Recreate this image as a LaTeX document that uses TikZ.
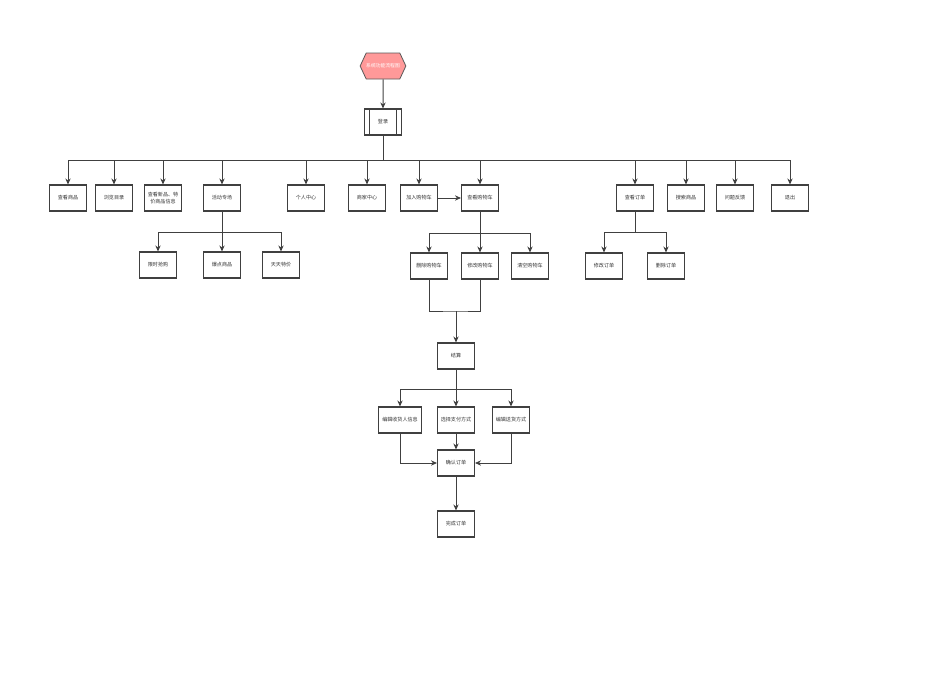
\documentclass[tikz,border=0pt]{standalone}
\usepackage{fontspec}
\setmainfont{Noto Sans CJK SC}
\usetikzlibrary{arrows.meta,shapes.symbols}

\tikzset{
  box/.style={draw=black!75, line width=0.8pt, fill=white, minimum width=27.75pt,
    minimum height=19.5pt, inner sep=1pt, align=center, text=black!80,
    font=\fontsize{3.8}{4.8}\selectfont},
  link/.style={draw=black!75, line width=0.75pt},
  >={Stealth[length=4.5pt,width=4pt]}
}

\begin{document}
\begin{tikzpicture}[x=0.75pt, y=-0.75pt]
  \useasboundingbox (0,0) rectangle (950,672);
  % start and login
  \node[signal, signal to=east and west, signal pointer angle=130, fill=red!40,
    draw=black!65, line width=0.6pt, minimum width=31.5pt, minimum height=19.5pt,
    inner sep=0pt, text=white, font=\fontsize{3.6}{4.5}\selectfont] (start) at (383,66) {系统功能流程图};
  \node[box] (login) at (383,122) {登录};
  \draw[link] ([xshift=4.5pt]login.north west) -- ([xshift=4.5pt]login.south west);
  \draw[link] ([xshift=-4.5pt]login.north east) -- ([xshift=-4.5pt]login.south east);
  \draw[link,->] (start) -- (login);

  % first level
  \foreach \nm/\x/\txt in {look/68/查看商品, browse/114/浏览目录, news/163/{查看新品、特\\价商品信息},
      act/222/活动专场, mine/306/个人中心, shop/367/商家中心, addcart/419/加入购物车,
      cart/480/查看购物车, order/635/查看订单, search/686/搜索商品, back/735/问题反馈, quit/790/退出}
    \node[box] (\nm) at (\x,198) {\txt};
  \coordinate (bus) at (383,160);
  \draw[link] (login) -- (bus);
  \draw[link] (bus -| look) -- (bus -| quit);
  \foreach \nm in {look,browse,news,act,mine,shop,addcart,cart,order,search,back,quit}
    \draw[link,->] (bus -| \nm) -- (\nm);
  \draw[link,->] (addcart) -- (cart);

  % activities
  \foreach \nm/\x/\txt in {flash/158/限时抢购, hot/222/爆点商品, daily/281/天天特价}
    \node[box] (\nm) at (\x,265) {\txt};
  \coordinate (actbus) at (222,232);
  \draw[link] (act) -- (actbus);
  \draw[link] (actbus -| flash) -- (actbus -| daily);
  \foreach \nm in {flash,hot,daily}
    \draw[link,->] (actbus -| \nm) -- (\nm);

  % cart
  \foreach \nm/\x/\txt in {cdel/429/删除购物车, cmod/480/修改购物车, cclr/530/清空购物车}
    \node[box] (\nm) at (\x,266) {\txt};
  \coordinate (cartbus) at (480,233);
  \draw[link] (cart) -- (cartbus);
  \draw[link] (cartbus -| cdel) -- (cartbus -| cclr);
  \foreach \nm in {cdel,cmod,cclr}
    \draw[link,->] (cartbus -| \nm) -- (\nm);

  % orders
  \foreach \nm/\x/\txt in {omod/604/修改订单, odel/666/删除订单}
    \node[box] (\nm) at (\x,266) {\txt};
  \coordinate (ordbus) at (635,232);
  \draw[link] (order) -- (ordbus);
  \draw[link] (ordbus -| omod) -- (ordbus -| odel);
  \foreach \nm in {omod,odel}
    \draw[link,->] (ordbus -| \nm) -- (\nm);

  % checkout
  \node[box] (settle) at (456,356) {结算};
  \coordinate (mrg) at (456,311);
  \draw[link] (cdel) |- (mrg) -| (cmod);
  \draw[link,->] (mrg) -- (settle);
  \node[box, minimum width=32pt] (addr) at (400,420) {编辑收货人信息};
  \node[box] (paym) at (456,420) {选择支付方式};
  \node[box] (ship) at (511,420) {编辑送货方式};
  \coordinate (setbus) at (456,389);
  \draw[link] (settle) -- (setbus);
  \draw[link] (setbus -| addr) -- (setbus -| ship);
  \foreach \nm in {addr,paym,ship}
    \draw[link,->] (setbus -| \nm) -- (\nm);
  \node[box] (confirm) at (456,463) {确认订单};
  \draw[link,->] (addr) |- (confirm);
  \draw[link,->] (ship) |- (confirm);
  \draw[link,->] (paym) -- (confirm);
  \node[box] (done) at (456,524) {完成订单};
  \draw[link,->] (confirm) -- (done);
\end{tikzpicture}
\end{document}
